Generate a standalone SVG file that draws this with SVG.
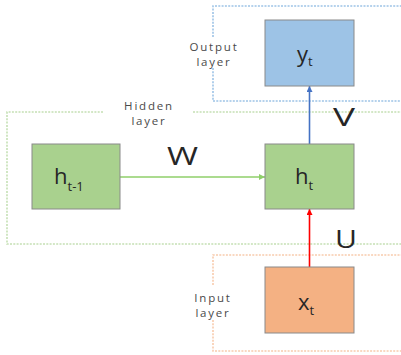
<svg xmlns="http://www.w3.org/2000/svg" width="401" height="355" viewBox="0 0 401 355">
<style>
.frame{fill:none;stroke-width:1.6;stroke-dasharray:2,1.3}
.node{stroke:#8a8a8a;stroke-width:1}
.lbl{font-family:"Open Sans",sans-serif;font-size:11.5px;fill:#4a4a4a;text-anchor:middle;letter-spacing:1.8px}
.var{font-family:"Open Sans",sans-serif;font-size:22px;fill:#262626}
.sub{font-size:13px}
.w{font-family:"Open Sans",sans-serif;font-size:25px;fill:#262626;text-anchor:middle}
</style>
<defs>
<marker id="ag" viewBox="0 0 6 6" refX="6" refY="3" markerWidth="6" markerHeight="6" markerUnits="userSpaceOnUse" orient="auto"><path d="M0,0L6,3L0,6z" fill="#8fcf6a"/></marker>
<marker id="ab" viewBox="0 0 6 6" refX="6" refY="3" markerWidth="6" markerHeight="6" markerUnits="userSpaceOnUse" orient="auto"><path d="M0,0L6,3L0,6z" fill="#4472c4"/></marker>
<marker id="ar" viewBox="0 0 6 6" refX="6" refY="3" markerWidth="6" markerHeight="6" markerUnits="userSpaceOnUse" orient="auto"><path d="M0,0L6,3L0,6z" fill="#ff0000"/></marker>
</defs>
<g id="layers">
<path class="frame" stroke="#9dc3e6" d="M213,37V6H401M213,68V101H401"/>
<path class="frame" stroke="#c5e0b4" d="M103,112H7V244H401M193,112H401"/>
<path class="frame" stroke="#f8cbad" d="M213,285V255H401M213,320V351H401"/>
<text class="lbl" x="214" y="51">Output</text>
<text class="lbl" x="214" y="65.5">layer</text>
<text class="lbl" x="149" y="110">Hidden</text>
<text class="lbl" x="149" y="124.5">layer</text>
<text class="lbl" x="213" y="302">Input</text>
<text class="lbl" x="213" y="316.5">layer</text>
</g>
<g id="connectors">
<line x1="120" y1="177" x2="265" y2="177" stroke="#8fcf6a" stroke-width="1.6" marker-end="url(#ag)"/>
<line x1="309.5" y1="144" x2="309.5" y2="86" stroke="#4472c4" stroke-width="1.6" marker-end="url(#ab)"/>
<line x1="309.5" y1="267" x2="309.5" y2="209" stroke="#ff0000" stroke-width="1.6" marker-end="url(#ar)"/>
<text class="w" x="182.5" y="165" textLength="31" lengthAdjust="spacingAndGlyphs">W</text>
<text class="w" x="344" y="126" textLength="22" lengthAdjust="spacingAndGlyphs">V</text>
<text class="w" x="346" y="248" textLength="22" lengthAdjust="spacingAndGlyphs">U</text>
</g>
<g id="node-yt">
<rect class="node" x="265" y="20" width="89" height="66" fill="#9dc3e6"/>
<text class="var" x="297" y="62">y<tspan class="sub" dy="4">t</tspan></text>
</g>
<g id="node-ht1">
<rect class="node" x="32" y="144" width="88" height="65" fill="#a9d18e"/>
<text class="var" x="54" y="184">h<tspan class="sub" dy="7">t-1</tspan></text>
</g>
<g id="node-ht">
<rect class="node" x="265" y="144" width="89" height="65" fill="#a9d18e"/>
<text class="var" x="295" y="184">h<tspan class="sub" dy="6">t</tspan></text>
</g>
<g id="node-xt">
<rect class="node" x="265" y="267" width="89" height="66" fill="#f4b183"/>
<text class="var" x="298" y="310">x<tspan class="sub" dy="5">t</tspan></text>
</g>
</svg>
